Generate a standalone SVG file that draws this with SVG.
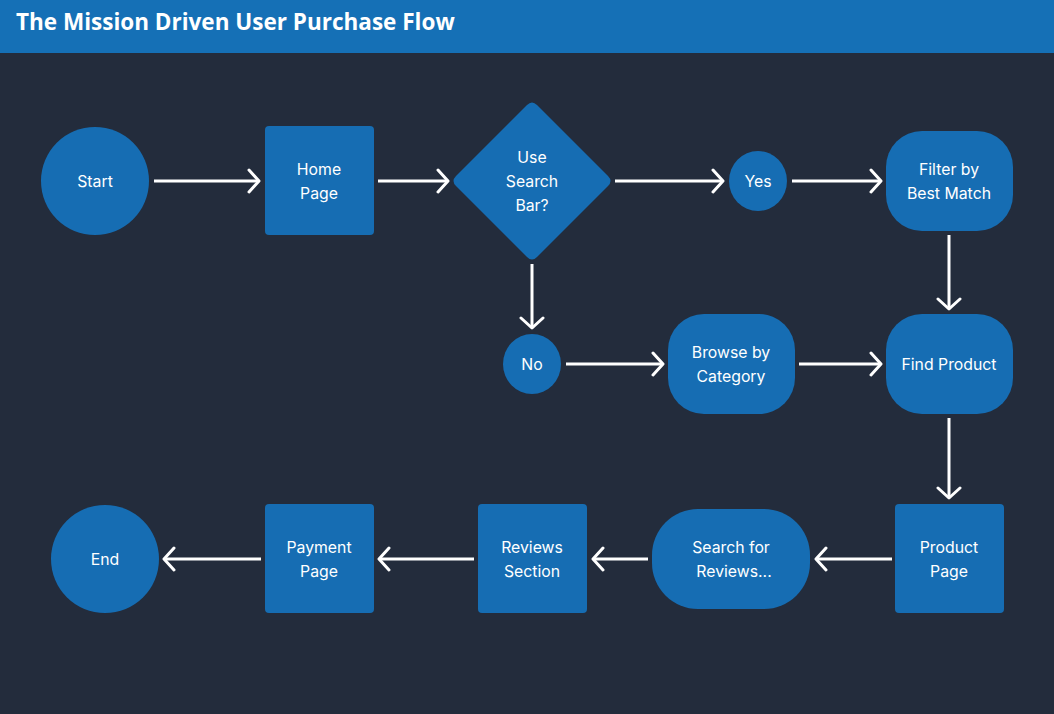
<svg xmlns="http://www.w3.org/2000/svg" width="1054" height="714" viewBox="0 0 1054 714">
<defs>
<style>
.n{fill:#166db3;}
.t{font-family:Inter,"Noto Sans",sans-serif;font-size:15.8px;fill:#ffffff;text-anchor:middle;}
.c{stroke:#ffffff;stroke-width:3;fill:none;marker-end:url(#ah);}
</style>
<marker id="ah" markerUnits="userSpaceOnUse" markerWidth="24" markerHeight="26" viewBox="-12 -13 24 26" refX="0" refY="0" orient="auto">
<path d="M-10,-11 L0,0 L-10,11" fill="none" stroke="#ffffff" stroke-width="3" stroke-linecap="round" stroke-linejoin="round"/>
</marker>
</defs>
<rect x="0" y="0" width="1054" height="714" fill="#232c3c"/>
<rect x="0" y="0" width="1054" height="53" fill="#1570b6"/>
<text x="16" y="30" font-family="'Open Sans',Lato,sans-serif" font-weight="bold" font-size="22.5" fill="#ffffff">The Mission Driven User Purchase Flow</text>
<g id="connectors">
<line class="c" x1="154" y1="181" x2="259" y2="181"/>
<line class="c" x1="378" y1="181" x2="448" y2="181"/>
<line class="c" x1="615" y1="181" x2="723" y2="181"/>
<line class="c" x1="792" y1="181" x2="881" y2="181"/>
<line class="c" x1="949" y1="235" x2="949" y2="309"/>
<line class="c" x1="532" y1="264" x2="532" y2="328"/>
<line class="c" x1="566" y1="364" x2="663" y2="364"/>
<line class="c" x1="799" y1="364" x2="881" y2="364"/>
<line class="c" x1="949" y1="418" x2="949" y2="498"/>
<line class="c" x1="892" y1="559" x2="816" y2="559"/>
<line class="c" x1="648" y1="559" x2="593" y2="559"/>
<line class="c" x1="474" y1="559" x2="379" y2="559"/>
<line class="c" x1="261" y1="559" x2="164" y2="559"/>
</g>
<g id="start"><circle class="n" cx="95" cy="181" r="54"/><text class="t" x="95" y="187">Start</text></g>
<g id="home"><rect class="n" x="265" y="126" width="109" height="109" rx="4"/><text class="t" x="319" y="175">Home</text><text class="t" x="319" y="199">Page</text></g>
<g id="decision"><path class="n" d="M527,105 Q532,100 537,105 L608,176 Q613,181 608,186 L537,257 Q532,262 527,257 L456,186 Q451,181 456,176 Z"/><text class="t" x="532" y="163">Use</text><text class="t" x="532" y="187">Search</text><text class="t" x="532" y="211">Bar?</text></g>
<g id="yes"><ellipse class="n" cx="758" cy="181" rx="29" ry="30"/><text class="t" x="758" y="187">Yes</text></g>
<g id="filter"><rect class="n" x="886" y="131" width="127" height="100" rx="36"/><text class="t" x="949" y="175">Filter by</text><text class="t" x="949" y="199">Best Match</text></g>
<g id="no"><ellipse class="n" cx="532" cy="364" rx="29" ry="30"/><text class="t" x="532" y="370">No</text></g>
<g id="browse"><rect class="n" x="668" y="314" width="127" height="100" rx="36"/><text class="t" x="731" y="358">Browse by</text><text class="t" x="731" y="382">Category</text></g>
<g id="find"><rect class="n" x="886" y="314" width="127" height="100" rx="36"/><text class="t" x="949" y="370">Find Product</text></g>
<g id="product"><rect class="n" x="895" y="504" width="109" height="109" rx="4"/><text class="t" x="949" y="553">Product</text><text class="t" x="949" y="577">Page</text></g>
<g id="searchreviews"><rect class="n" x="652" y="509" width="158" height="100" rx="46"/><text class="t" x="731" y="553">Search for</text><text class="t" x="734" y="577">Reviews...</text></g>
<g id="reviews"><rect class="n" x="478" y="504" width="109" height="109" rx="4"/><text class="t" x="532" y="553">Reviews</text><text class="t" x="532" y="577">Section</text></g>
<g id="payment"><rect class="n" x="265" y="504" width="109" height="109" rx="4"/><text class="t" x="319" y="553">Payment</text><text class="t" x="319" y="577">Page</text></g>
<g id="end"><circle class="n" cx="105" cy="559" r="54"/><text class="t" x="105" y="565">End</text></g>
</svg>
